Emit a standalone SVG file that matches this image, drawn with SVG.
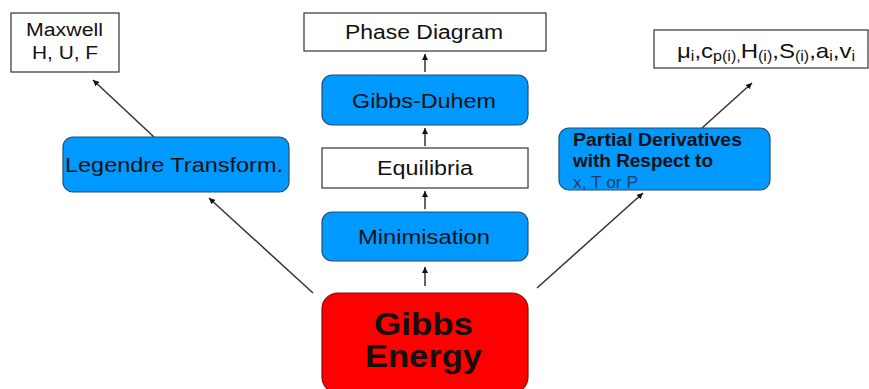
<svg xmlns="http://www.w3.org/2000/svg" width="869" height="389" viewBox="0 0 869 389">
<style>
text{font-family:"Liberation Sans",Arial,sans-serif;fill:#111}
.w{fill:#fff;stroke:#333;stroke-width:1.2}
.b{fill:#0099ff;stroke:#1f4f7a;stroke-width:1.2}
.r{fill:#ff0000;stroke:#7a1010;stroke-width:1.2}
.c line{stroke:#333;stroke-width:1.5;marker-end:url(#ah)}
.m{text-anchor:middle}
</style>
<defs>
<marker id="ah" viewBox="0 0 10 10" refX="10" refY="5" markerWidth="6" markerHeight="6" orient="auto" markerUnits="userSpaceOnUse">
<path d="M0,0L10,5L0,10z" fill="#111"/>
</marker>
</defs>
<rect width="869" height="389" fill="#fff"/>
<g class="c" id="connectors">
<line x1="154" y1="137" x2="93" y2="80"/>
<line x1="313" y1="293" x2="209" y2="198"/>
<line x1="425" y1="72" x2="425" y2="54"/>
<line x1="425" y1="146" x2="425" y2="128"/>
<line x1="425" y1="209" x2="425" y2="191"/>
<line x1="425" y1="286" x2="425" y2="267"/>
<line x1="537" y1="288" x2="643" y2="193"/>
<line x1="702" y1="128" x2="752" y2="83"/>
</g>
<g id="maxwell">
<rect class="w" x="11" y="13" width="108" height="59"/>
<text x="26" y="36" font-size="18" textLength="77" lengthAdjust="spacingAndGlyphs">Maxwell</text>
<text x="32" y="59" font-size="18" textLength="66" lengthAdjust="spacingAndGlyphs">H, U, F</text>
</g>
<g id="legendre">
<rect class="b" x="63" y="137" width="226" height="55" rx="10"/>
<text x="65" y="172" font-size="20" textLength="218" lengthAdjust="spacingAndGlyphs">Legendre Transform.</text>
</g>
<g id="phase">
<rect class="w" x="304" y="13" width="242" height="38"/>
<text x="345" y="39" font-size="20" textLength="158" lengthAdjust="spacingAndGlyphs">Phase Diagram</text>
</g>
<g id="gibbsduhem">
<rect class="b" x="322" y="75" width="206" height="50" rx="10"/>
<text x="352" y="108" font-size="20" textLength="144" lengthAdjust="spacingAndGlyphs">Gibbs-Duhem</text>
</g>
<g id="equilibria">
<rect class="w" x="322" y="148" width="206" height="40"/>
<text x="377" y="175" font-size="20" textLength="96" lengthAdjust="spacingAndGlyphs">Equilibria</text>
</g>
<g id="minimisation">
<rect class="b" x="322" y="212" width="206" height="49" rx="10"/>
<text x="358" y="244" font-size="20" textLength="132" lengthAdjust="spacingAndGlyphs">Minimisation</text>
</g>
<g id="gibbs">
<rect class="r" x="322" y="293" width="206" height="100" rx="16"/>
<text x="374" y="335" font-size="31" font-weight="bold" textLength="99" lengthAdjust="spacingAndGlyphs">Gibbs</text>
<text x="365" y="367" font-size="31" font-weight="bold" textLength="117" lengthAdjust="spacingAndGlyphs">Energy</text>
</g>
<g id="partial">
<rect class="b" x="559" y="128" width="211" height="62" rx="10"/>
<text x="573" y="146" font-size="18" font-weight="bold" textLength="169" lengthAdjust="spacingAndGlyphs">Partial Derivatives</text>
<text x="573" y="167" font-size="18" font-weight="bold" textLength="140" lengthAdjust="spacingAndGlyphs">with Respect to</text>
<text x="573" y="188" font-size="17" textLength="65" lengthAdjust="spacingAndGlyphs" style="fill:#1f3f6a">x, T or P</text>
</g>
<g id="properties">
<rect class="w" x="654" y="30" width="214" height="38"/>
<text x="677" y="58" font-size="21" textLength="178" lengthAdjust="spacingAndGlyphs">μ<tspan font-size="14" dy="3">i</tspan><tspan dy="-3">,c</tspan><tspan font-size="14" dy="3">p(i),</tspan><tspan dy="-3">H</tspan><tspan font-size="14" dy="3">(i)</tspan><tspan dy="-3">,S</tspan><tspan font-size="14" dy="3">(i)</tspan><tspan dy="-3">,a</tspan><tspan font-size="14" dy="3">i</tspan><tspan dy="-3">,v</tspan><tspan font-size="14" dy="3">i</tspan></text>
</g>
</svg>
